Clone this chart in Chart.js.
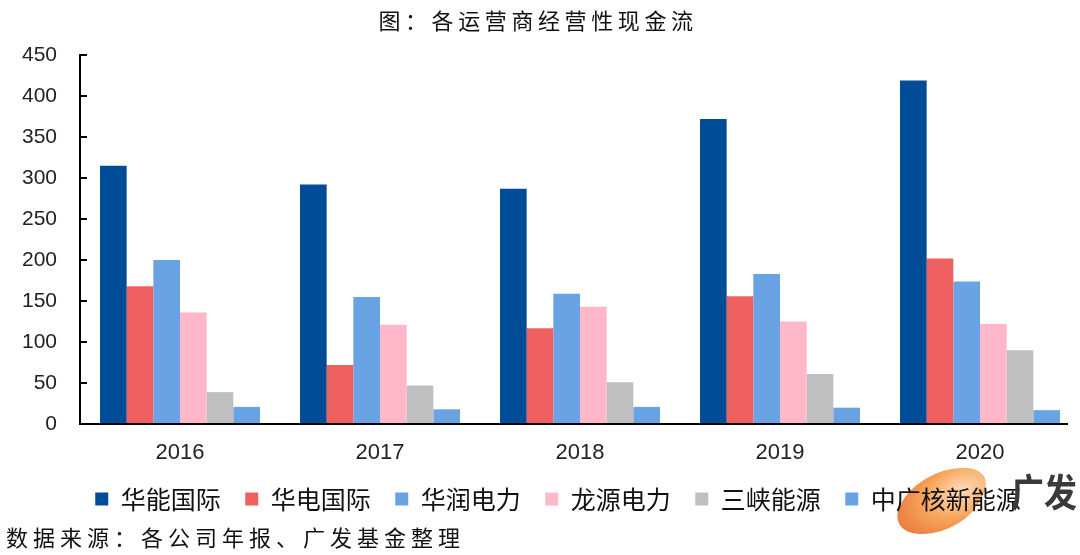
<!DOCTYPE html>
<html>
<head>
<meta charset="utf-8">
<script src="https://cdn.jsdelivr.net/npm/chart.js@4.4.0/dist/chart.umd.min.js"></script>
<style>
  html, body { margin:0; padding:0; background:#fff; }
  #wrap { position:relative; width:1080px; height:555px; overflow:hidden; background:#fff; }
  #c { position:absolute; left:0; top:0; z-index:2; }
  .title { position:absolute; left:0; top:3px; width:1076px; text-align:center; z-index:3;
    font-family:"Noto Sans CJK SC", sans-serif; font-size:22px; letter-spacing:4.6px; color:#111; }
  .source { position:absolute; left:6px; top:520px; z-index:3; white-space:nowrap;
    font-family:"Noto Sans CJK SC", sans-serif; font-size:22px; letter-spacing:5px; color:#111; }
  .swoosh { position:absolute; left:902px; top:468px; width:78px; height:66px; z-index:1;
    background:radial-gradient(ellipse at 70% 35%, #ffd8b0 0%, #f5953f 45%, #e8671f 80%, rgba(255,255,255,0) 100%);
    border-radius:60% 40% 55% 45%; transform:skewX(-25deg); opacity:0.85; }
  .logo { position:absolute; left:1011px; top:462px; z-index:3; white-space:nowrap;
    font-family:"Noto Sans CJK SC", sans-serif; font-weight:bold; font-size:33px; color:#3a3a3a;
    transform:scaleY(1.15); transform-origin:top left; }
</style>
</head>
<body>
<div id="wrap">
  <div class="swoosh"></div>
  <canvas id="c" width="1080" height="555"></canvas>
  <div class="title">图：各运营商经营性现金流</div>
  <div class="source">数据来源：各公司年报、广发基金整理</div>
  <div class="logo">广发</div>
</div>
<script>
const years = ['2016', '2017', '2018', '2019', '2020'];
const huanengIntl = [315, 292, 287, 372, 419];
const huadianIntl = [168, 72, 117, 156, 202];
const huarunPower = [200, 155, 159, 183, 174];
const longyuanPower = [136, 121, 143, 125, 122];
const sanxiaEnergy = [39, 47, 51, 61, 90];
const cgnNewEnergy = [21, 18, 21, 20, 17];
const seriesNames = ['华能国际', '华电国际', '华润电力', '龙源电力', '三峡能源', '中广核新能源'];
const yMin = 0, yMax = 450, yStep = 50;

const colors = ['#004C97', '#EF6060', '#6AA3E3', '#FFB8C9', '#BFBFBF', '#6AA3E3'];
const allSeries = [huanengIntl, huadianIntl, huarunPower, longyuanPower, sanxiaEnergy, cgnNewEnergy];

const LEGEND_DX = 18, LEGEND_DY = -19.5;

const axisDecor = {
  id: 'axisDecor',
  afterLayout(chart) {
    const lg = chart.legend;
    if (lg) {
      lg.left += LEGEND_DX; lg.right += LEGEND_DX;
      lg.top += LEGEND_DY; lg.bottom += LEGEND_DY;
    }
  },
  afterDatasetsDraw(chart) {
    const y = chart.scales.y, ctx = chart.ctx;
    ctx.save();
    ctx.strokeStyle = '#000';
    ctx.lineWidth = 2;
    y.ticks.forEach((t, i) => {
      const py = Math.round(y.getPixelForTick(i));
      ctx.beginPath();
      ctx.moveTo(y.right, py);
      ctx.lineTo(y.right + 7, py);
      ctx.stroke();
    });
    ctx.beginPath();
    ctx.moveTo(chart.chartArea.left - 1, chart.chartArea.bottom);
    ctx.lineTo(chart.chartArea.right - 12, chart.chartArea.bottom);
    ctx.stroke();
    ctx.restore();
  }
};

new Chart(document.getElementById('c'), {
  type: 'bar',
  data: {
    labels: years,
    datasets: allSeries.map((d, i) => ({
      label: seriesNames[i],
      data: d,
      backgroundColor: colors[i],
      borderWidth: 0,
      barPercentage: 1.0,
      categoryPercentage: 0.8
    }))
  },
  options: {
    responsive: false,
    animation: false,
    devicePixelRatio: 1,
    layout: { padding: { left: 0, right: 0, top: 55, bottom: 14 } },
    plugins: {
      title: { display: false },
      tooltip: { enabled: false },
      legend: {
        position: 'bottom',
        labels: {
          boxWidth: 13, boxHeight: 13, padding: 24.5, color: '#111',
          font: { size: 25, family: '"Noto Sans CJK SC", sans-serif' }
        }
      }
    },
    scales: {
      x: {
        grid: { display: false, drawTicks: false },
        border: { display: false },
        ticks: { padding: 15.5, color: '#222', font: { size: 22, family: '"Liberation Sans", Arial, sans-serif' } }
      },
      y: {
        min: yMin, max: yMax,
        afterFit(scale) { scale.width = 80; },
        grid: { display: false, drawTicks: false },
        border: { display: true, color: '#000', width: 2 },
        ticks: { stepSize: yStep, padding: 23, color: '#222', font: { size: 21, family: '"Liberation Sans", Arial, sans-serif' } }
      }
    }
  },
  plugins: [axisDecor]
});
</script>
</body>
</html>
